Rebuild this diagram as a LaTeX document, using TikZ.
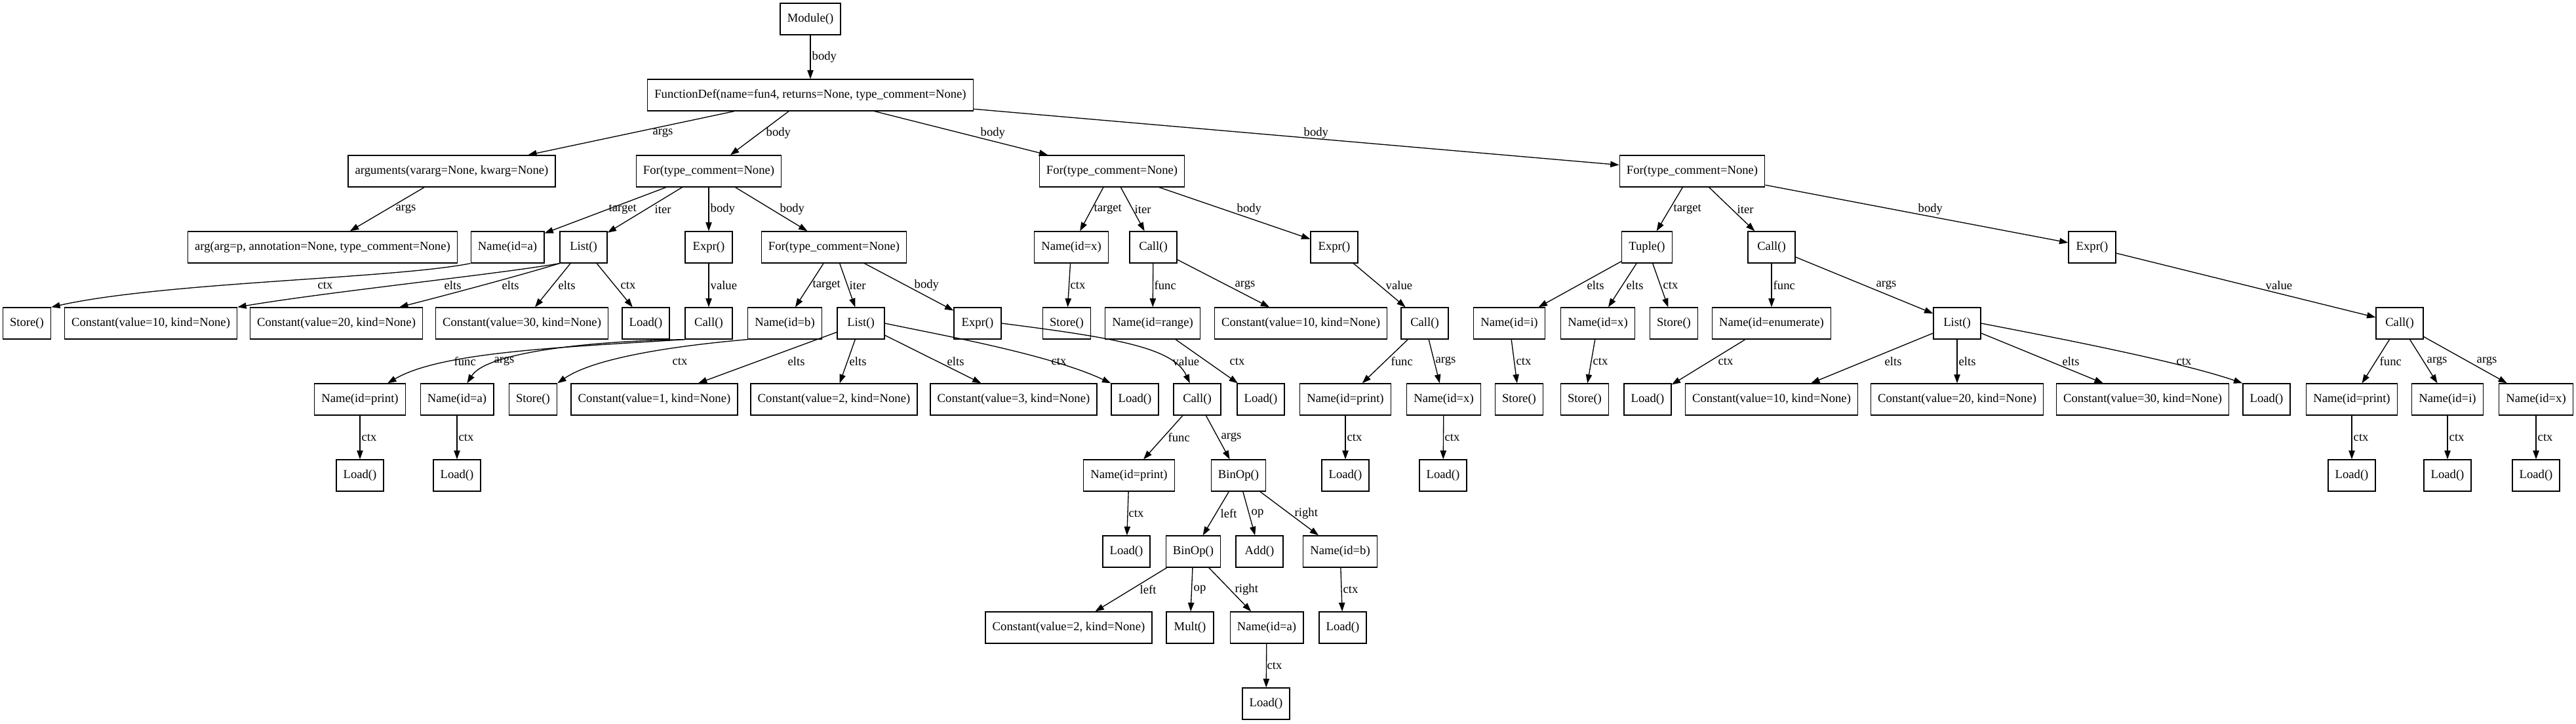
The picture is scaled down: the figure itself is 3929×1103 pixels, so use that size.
\documentclass[tikz,border=0pt]{standalone}
\usepackage{fontspec}
\setmainfont{Liberation Serif}
\usetikzlibrary{arrows.meta}

\begin{document}
\begin{tikzpicture}[
    x=0.75pt, y=-0.75pt,
    ast/.style={rectangle, draw, line width=1pt, minimum width=54pt, minimum height=36pt, inner xsep=8pt, inner ysep=0pt, font=\fontsize{14}{16}\selectfont},
    field/.style={-{Triangle[length=10pt, width=7pt]}, line width=1pt},
    fieldname/.style={anchor=west, inner sep=0pt, font=\fontsize{14}{16}\selectfont}
]

\useasboundingbox (0,0) rectangle (3929,1103);
\fill[white] (0,0) rectangle (3929,1103);

% Module and function
\node[ast] (mod) at (1236,29) {Module()};
\node[ast] (fdef) at (1236,145) {FunctionDef(name=fun4, returns=None, type\_comment=None)};

% Rank 2 - arguments and the three loops
\node[ast] (argsn) at (689,261) {arguments(vararg=None, kwarg=None)};
\node[ast] (forA) at (1081,261) {For(type\_comment=None)};
\node[ast] (forB) at (1696,261) {For(type\_comment=None)};
\node[ast] (forC) at (2581,261) {For(type\_comment=None)};

% Rank 3
\node[ast] (argp) at (492,377) {arg(arg=p, annotation=None, type\_comment=None)};
\node[ast] (nameA) at (774,377) {Name(id=a)};
\node[ast] (listA) at (890,377) {List()};
\node[ast] (exprA) at (1081,377) {Expr()};
\node[ast] (forD) at (1272,377) {For(type\_comment=None)};
\node[ast] (nameX) at (1634,377) {Name(id=x)};
\node[ast] (callB) at (1759,377) {Call()};
\node[ast] (exprB) at (2035,377) {Expr()};
\node[ast] (tupC) at (2512,377) {Tuple()};
\node[ast] (callC) at (2702,377) {Call()};
\node[ast] (exprC) at (3191,377) {Expr()};

% Rank 4
\node[ast] (storeA) at (41,493) {Store()};
\node[ast] (cA10) at (230,493) {Constant(value=10, kind=None)};
\node[ast] (cA20) at (513,493) {Constant(value=20, kind=None)};
\node[ast] (cA30) at (796,493) {Constant(value=30, kind=None)};
\node[ast] (loadA) at (985,493) {Load()};
\node[ast] (callA) at (1081,493) {Call()};
\node[ast] (nameB) at (1197,493) {Name(id=b)};
\node[ast] (listD) at (1313,493) {List()};
\node[ast] (exprD) at (1491,493) {Expr()};
\node[ast] (storeX) at (1627,493) {Store()};
\node[ast] (nameR) at (1758,493) {Name(id=range)};
\node[ast] (cB10) at (1984,493) {Constant(value=10, kind=None)};
\node[ast] (callB2) at (2173,493) {Call()};
\node[ast] (nameI) at (2302,493) {Name(id=i)};
\node[ast] (nameX2) at (2437,493) {Name(id=x)};
\node[ast] (storeC) at (2553,493) {Store()};
\node[ast] (nameE) at (2702,493) {Name(id=enumerate)};
\node[ast] (listC) at (2985,493) {List()};
\node[ast] (callC2) at (3660,493) {Call()};

% Rank 5
\node[ast] (printA) at (549,609) {Name(id=print)};
\node[ast] (nameA2) at (697,609) {Name(id=a)};
\node[ast] (storeB) at (813,609) {Store()};
\node[ast] (cD1) at (998,609) {Constant(value=1, kind=None)};
\node[ast] (cD2) at (1272,609) {Constant(value=2, kind=None)};
\node[ast] (cD3) at (1546,609) {Constant(value=3, kind=None)};
\node[ast] (loadD) at (1731,609) {Load()};
\node[ast] (callD) at (1826,609) {Call()};
\node[ast] (loadR) at (1923,609) {Load()};
\node[ast] (printB) at (2052,609) {Name(id=print)};
\node[ast] (nameX3) at (2202,609) {Name(id=x)};
\node[ast] (storeI) at (2317,609) {Store()};
\node[ast] (storeX2) at (2417,609) {Store()};
\node[ast] (loadE) at (2513,609) {Load()};
\node[ast] (cC10) at (2702,609) {Constant(value=10, kind=None)};
\node[ast] (cC20) at (2985,609) {Constant(value=20, kind=None)};
\node[ast] (cC30) at (3268,609) {Constant(value=30, kind=None)};
\node[ast] (loadC) at (3457,609) {Load()};
\node[ast] (printC) at (3587,609) {Name(id=print)};
\node[ast] (nameI2) at (3733,609) {Name(id=i)};
\node[ast] (nameX4) at (3868,609) {Name(id=x)};

% Rank 6
\node[ast] (loadPA) at (549,725) {Load()};
\node[ast] (loadNA) at (697,725) {Load()};
\node[ast] (printD) at (1722,725) {Name(id=print)};
\node[ast] (binA) at (1889,725) {BinOp()};
\node[ast] (loadPB) at (2052,725) {Load()};
\node[ast] (loadX3) at (2201,725) {Load()};
\node[ast] (loadPC) at (3587,725) {Load()};
\node[ast] (loadI2) at (3733,725) {Load()};
\node[ast] (loadX4) at (3868,725) {Load()};

% Rank 7 to 9 - the nested BinOp
\node[ast] (loadPD) at (1718,841) {Load()};
\node[ast] (binB) at (1820,841) {BinOp()};
\node[ast] (addn) at (1921,841) {Add()};
\node[ast] (nameBb) at (2044,841) {Name(id=b)};
\node[ast] (cE2) at (1630,957) {Constant(value=2, kind=None)};
\node[ast] (multn) at (1815,957) {Mult()};
\node[ast] (nameA3) at (1932,957) {Name(id=a)};
\node[ast] (loadBb) at (2048,957) {Load()};
\node[ast] (loadA3) at (1931,1073) {Load()};

% Fields - top
\draw[field] (mod) -- (fdef) node[fieldname] at (1238,87) {body};
\draw[field] (fdef) -- (argsn) node[fieldname] at (995,203) {args};
\draw[field] (fdef) -- (forA) node[fieldname] at (1168,203) {body};
\draw[field] (fdef) -- (forB) node[fieldname] at (1495,203) {body};
\draw[field] (fdef) -- (forC) node[fieldname] at (1988,203) {body};

% Fields - rank 2 to 3
\draw[field] (argsn) -- (argp) node[fieldname] at (603,319) {args};
\draw[field] (forA) -- (nameA) node[fieldname] at (928,319) {target};
\draw[field] (forA) -- (listA) node[fieldname] at (998,319) {iter};
\draw[field] (forA) -- (exprA) node[fieldname] at (1083,319) {body};
\draw[field] (forA) -- (forD) node[fieldname] at (1189,319) {body};
\draw[field] (forB) -- (nameX) node[fieldname] at (1668,319) {target};
\draw[field] (forB) -- (callB) node[fieldname] at (1730,319) {iter};
\draw[field] (forB) -- (exprB) node[fieldname] at (1886,319) {body};
\draw[field] (forC) -- (tupC) node[fieldname] at (2552,319) {target};
\draw[field] (forC) -- (callC) node[fieldname] at (2649,319) {iter};
\draw[field] (forC) -- (exprC) node[fieldname] at (2925,319) {body};

% Fields - rank 3 to 4
\draw[field] (nameA.south west) .. controls (600,425) and (250,430) .. (storeA.north east) node[fieldname] at (484,435) {ctx};
\draw[field] (listA.south west) .. controls (760,418) and (500,445) .. (cA10.north east) node[fieldname] at (677,435) {elts};
\draw[field] (listA.south west) .. controls (800,418) and (700,445) .. (cA20) node[fieldname] at (765,435) {elts};
\draw[field] (listA) -- (cA30) node[fieldname] at (851,435) {elts};
\draw[field] (listA) -- (loadA) node[fieldname] at (946,435) {ctx};
\draw[field] (exprA) -- (callA) node[fieldname] at (1083,435) {value};
\draw[field] (forD) -- (nameB) node[fieldname] at (1239,435) {target};
\draw[field] (forD) -- (listD) node[fieldname] at (1295,435) {iter};
\draw[field] (forD) -- (exprD) node[fieldname] at (1394,435) {body};
\draw[field] (nameX) -- (storeX) node[fieldname] at (1632,435) {ctx};
\draw[field] (callB) -- (nameR) node[fieldname] at (1760,435) {func};
\draw[field] (callB) -- (cB10) node[fieldname] at (1883,435) {args};
\draw[field] (exprB) -- (callB2) node[fieldname] at (2113,435) {value};
\draw[field] (tupC) -- (nameI) node[fieldname] at (2420,435) {elts};
\draw[field] (tupC) -- (nameX2) node[fieldname] at (2480,435) {elts};
\draw[field] (tupC) -- (storeC) node[fieldname] at (2536,435) {ctx};
\draw[field] (callC) -- (nameE) node[fieldname] at (2704,435) {func};
\draw[field] (callC) -- (listC) node[fieldname] at (2861,435) {args};
\draw[field] (exprC) -- (callC2) node[fieldname] at (3455,435) {value};

% Fields - rank 4 to 5
\draw[field] (callA.south west) .. controls (850,530) and (672,537) .. (printA) node[fieldname] at (692,551) {func};
\draw[field] (callA.south west) .. controls (900,520) and (742,537) .. (nameA2) node[fieldname] at (753,551) {args};
\draw[field] (nameB.south west) .. controls (1000,530) and (900,550) .. (storeB.north east) node[fieldname] at (1025,551) {ctx};
\draw[field] (listD) -- (cD1) node[fieldname] at (1201,551) {elts};
\draw[field] (listD) -- (cD2) node[fieldname] at (1295,551) {elts};
\draw[field] (listD) -- (cD3) node[fieldname] at (1444,551) {elts};
\draw[field] (listD.east) .. controls (1430,510) and (1600,540) .. (loadD.north west) node[fieldname] at (1603,551) {ctx};
\draw[field] (exprD.east) .. controls (1700,515) and (1790,530) .. (callD) node[fieldname] at (1788,551) {value};
\draw[field] (nameR) -- (loadR) node[fieldname] at (1875,551) {ctx};
\draw[field] (callB2) -- (printB) node[fieldname] at (2121,551) {func};
\draw[field] (callB2) -- (nameX3) node[fieldname] at (2189,551) {args};
\draw[field] (nameI) -- (storeI) node[fieldname] at (2312,551) {ctx};
\draw[field] (nameX2) -- (storeX2) node[fieldname] at (2429,551) {ctx};
\draw[field] (nameE) -- (loadE) node[fieldname] at (2620,551) {ctx};
\draw[field] (listC) -- (cC10) node[fieldname] at (2874,551) {elts};
\draw[field] (listC) -- (cC20) node[fieldname] at (2987,551) {elts};
\draw[field] (listC) -- (cC30) node[fieldname] at (3145,551) {elts};
\draw[field] (listC.east) .. controls (3120,512) and (3320,550) .. (loadC.north west) node[fieldname] at (3319,551) {ctx};
\draw[field] (callC2) -- (printC) node[fieldname] at (3629,551) {func};
\draw[field] (callC2) -- (nameI2) node[fieldname] at (3701,551) {args};
\draw[field] (callC2) -- (nameX4) node[fieldname] at (3777,551) {args};

% Fields - rank 5 to 6
\draw[field] (printA) -- (loadPA) node[fieldname] at (551,667) {ctx};
\draw[field] (nameA2) -- (loadNA) node[fieldname] at (699,667) {ctx};
\draw[field] (callD) -- (printD) node[fieldname] at (1781,667) {func};
\draw[field] (callD) -- (binA) node[fieldname] at (1862,667) {args};
\draw[field] (printB) -- (loadPB) node[fieldname] at (2054,667) {ctx};
\draw[field] (nameX3) -- (loadX3) node[fieldname] at (2203,667) {ctx};
\draw[field] (printC) -- (loadPC) node[fieldname] at (3589,667) {ctx};
\draw[field] (nameI2) -- (loadI2) node[fieldname] at (3735,667) {ctx};
\draw[field] (nameX4) -- (loadX4) node[fieldname] at (3870,667) {ctx};

% Fields - the BinOp chain
\draw[field] (printD) -- (loadPD) node[fieldname] at (1721,783) {ctx};
\draw[field] (binA) -- (binB) node[fieldname] at (1861,783) {left};
\draw[field] (binA) -- (addn) node[fieldname] at (1908,783) {op};
\draw[field] (binA) -- (nameBb) node[fieldname] at (1974,783) {right};
\draw[field] (binB) -- (cE2) node[fieldname] at (1738,899) {left};
\draw[field] (binB) -- (multn) node[fieldname] at (1820,899) {op};
\draw[field] (binB) -- (nameA3) node[fieldname] at (1883,899) {right};
\draw[field] (nameBb) -- (loadBb) node[fieldname] at (2048,899) {ctx};
\draw[field] (nameA3) -- (loadA3) node[fieldname] at (1932,1015) {ctx};

\end{tikzpicture}
\end{document}
